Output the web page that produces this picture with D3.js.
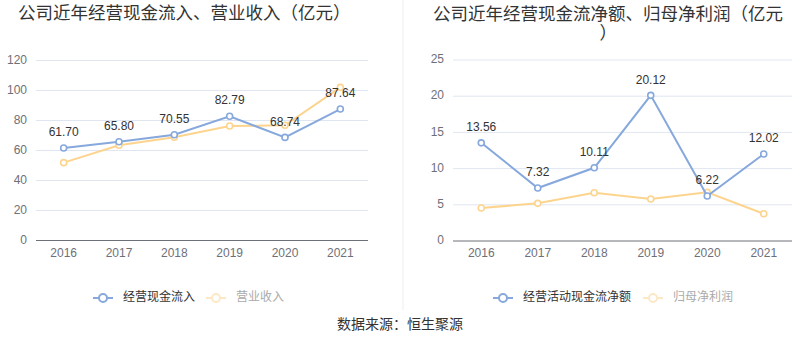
<!DOCTYPE html>
<html><head><meta charset="utf-8">
<script src="https://cdn.jsdelivr.net/npm/d3@7"></script>
<style>body{margin:0;background:#fff}svg{display:block}text{font-family:"Liberation Sans","Noto Sans CJK SC",sans-serif}</style>
</head><body><svg id="c" width="800" height="358"></svg>
<script>
const years = ["2016","2017","2018","2019","2020","2021"];
const cashInflow = [61.70, 65.80, 70.55, 82.79, 68.74, 87.64];
const revenue = [51.9, 63.5, 68.8, 76.3, 76.8, 102.1];
const netCashFlow = [13.56, 7.32, 10.11, 20.12, 6.22, 12.02];
const netProfit = [4.56, 5.2, 6.67, 5.8, 6.72, 3.77];
const leftTicks = [0, 20, 40, 60, 80, 100, 120];
const rightTicks = [0, 5, 10, 15, 20, 25];
const titleLeft = "公司近年经营现金流入、营业收入（亿元）";
const titleRight1 = "公司近年经营现金流净额、归母净利润（亿元";
const titleRight2 = "）";
const legendLeft = ["经营现金流入", "营业收入"];
const legendRight = ["经营活动现金流净额", "归母净利润"];
const source = "数据来源：恒生聚源";

const BLUE = "#86a8dc", ORANGE = "#fdd48e";
const svg = d3.select("#c");
const cjk = '"Noto Sans CJK SC","Liberation Sans",sans-serif';

// divider
svg.append("line").attr("x1",403).attr("x2",403).attr("y1",0).attr("y2",310)
  .attr("stroke","#eeeeee").attr("stroke-width",1);

// titles
svg.append("text").attr("x",18).attr("y",14).attr("dominant-baseline","middle")
  .attr("font-size",17.5).attr("fill","#333").style("font-family",cjk).text(titleLeft);
const rt = svg.append("text").attr("font-size",17.5).attr("fill","#333").style("font-family",cjk);
rt.append("tspan").attr("x",433).attr("y",20).text(titleRight1);
rt.append("tspan").attr("x",599.5).attr("y",39).text(titleRight2);

function panel(opt){
  const x = d3.scalePoint().domain(years).range([opt.x0, opt.x1]).padding(0.5);
  const y = d3.scaleLinear().domain([0, opt.max]).range([opt.y0, opt.y1]);
  const g = svg.append("g");
  // grid
  g.selectAll(".grid").data(opt.ticks.filter(t=>t>0)).enter().append("line")
    .attr("x1",opt.x0).attr("x2",opt.x1).attr("y1",d=>y(d)).attr("y2",d=>y(d))
    .attr("stroke","#e0e6f1").attr("stroke-width",1);
  // y labels
  g.selectAll(".yl").data(opt.ticks).enter().append("text")
    .attr("x",opt.x0-9).attr("y",d=>y(d)).attr("text-anchor","end").attr("dominant-baseline","middle")
    .attr("font-size",12).attr("fill","#6e7079").text(d=>d);
  // x axis
  g.append("line").attr("x1",opt.x0).attr("x2",opt.x1).attr("y1",y(0)).attr("y2",y(0))
    .attr("stroke","#6e7079").attr("stroke-width",1);
  g.selectAll(".xl").data(years).enter().append("text")
    .attr("x",d=>x(d)).attr("y",y(0)+13).attr("text-anchor","middle").attr("dominant-baseline","middle")
    .attr("font-size",12).attr("fill","#6e7079").text(d=>d);
  const line = d3.line().x((d,i)=>x(years[i])).y(d=>y(d));
  [[opt.s2, ORANGE],[opt.s1, BLUE]].forEach(([s,c])=>{
    g.append("path").datum(s).attr("d",line).attr("fill","none").attr("stroke",c).attr("stroke-width",2);
    g.selectAll(null).data(s).enter().append("circle")
      .attr("cx",(d,i)=>x(years[i])).attr("cy",d=>y(d)).attr("r",3)
      .attr("fill","#fff").attr("stroke",c).attr("stroke-width",1.6);
  });
  g.selectAll(".lab").data(opt.s1).enter().append("text")
    .attr("x",(d,i)=>x(years[i])).attr("y",d=>y(d)-15).attr("text-anchor","middle").attr("dominant-baseline","middle")
    .attr("font-size",12).attr("fill","#333").text(d=>d.toFixed(2));
  // legend
  opt.legend.forEach((name,i)=>{
    const lx = opt.legX[i], ly = 298;
    const col = i===0 ? BLUE : "#fde8c6";
    svg.append("line").attr("x1",lx).attr("x2",lx+20).attr("y1",ly).attr("y2",ly).attr("stroke",col).attr("stroke-width",2);
    svg.append("circle").attr("cx",lx+10).attr("cy",ly).attr("r",4).attr("fill","#fff").attr("stroke",col).attr("stroke-width",2);
    svg.append("text").attr("x",lx+30).attr("y",ly).attr("dominant-baseline","middle")
      .attr("font-size",12).attr("fill",i===0?"#333":"#aaa").style("font-family",cjk).text(name);
  });
}

panel({x0:36, x1:368, y0:240.5, y1:60.5, max:120, ticks:leftTicks, s1:cashInflow, s2:revenue, legend:legendLeft, legX:[93,206]});
panel({x0:453, x1:792, y0:241, y1:60, max:25, ticks:rightTicks, s1:netCashFlow, s2:netProfit, legend:legendRight, legX:[493,643]});

svg.append("text").attr("x",400).attr("y",325).attr("text-anchor","middle").attr("dominant-baseline","middle")
  .attr("font-size",14).attr("fill","#333").style("font-family",cjk).text(source);
</script></body></html>
